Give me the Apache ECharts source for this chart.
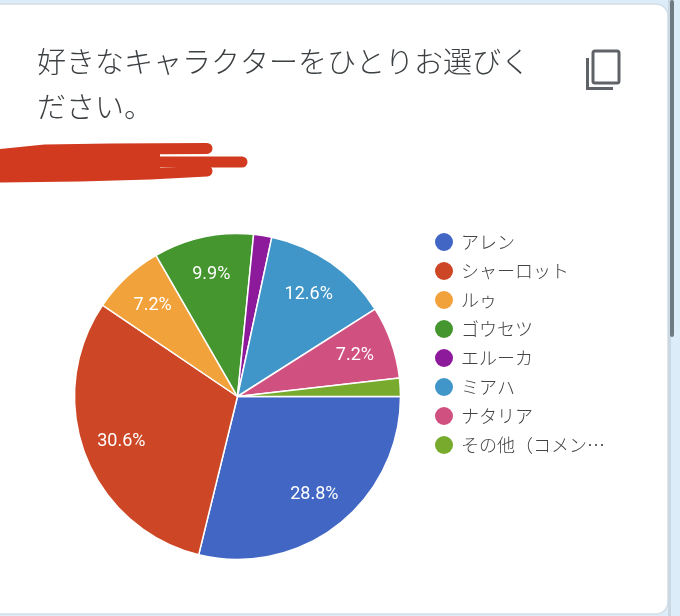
<!DOCTYPE html>
<html><head><meta charset="utf-8">
<style>html,body{margin:0;padding:0;background:#dcedf9}#c{width:680px;height:616px}</style>
<script src="https://cdn.jsdelivr.net/npm/echarts@6/dist/echarts.min.js"></script>
</head><body><div id="c"></div>
<script>
const titleText = "好きなキャラクターをひとりお選びく\nださい。";
const categories = ["アレン","シャーロット","ルゥ","ゴウセツ","エルーカ","ミアハ","ナタリア","その他（コメン…"];
const values = [28.8,30.6,7.2,9.9,1.8,12.6,7.2,1.8];
const colors = ["#4166c4","#cd4625","#f2a23a","#45962f","#8d1a9a","#4096c8","#d0507f","#78aa2e"];
const hiddenLabels = ["エルーカ","その他（コメン…"];
const FONT = '"Noto Sans CJK JP","Noto Sans",sans-serif';
const chart = echarts.init(document.getElementById('c'), null, {renderer:'canvas'});
const RED = "#d13a1f";
const stroke = (pts,w)=>({type:'polyline',z:-5,shape:{points:pts},style:{fill:"none",stroke:RED,lineWidth:w,lineCap:'round',lineJoin:'round'}});
chart.setOption({
  animation:false,
  backgroundColor:"#dcedf9",
  color:colors,
  title:{text:titleText,left:32,top:34,textStyle:{fontFamily:FONT,fontSize:29,fontWeight:300,color:"#3c4043",lineHeight:45}},
  legend:{
    orient:'vertical',left:430,top:228,itemWidth:18,itemHeight:18,itemGap:11,icon:'circle',
    data:categories,selectedMode:false,
    textStyle:{fontFamily:FONT,fontSize:18,fontWeight:300,color:"#444",padding:[0,0,0,3]},
    itemStyle:{borderWidth:0}
  },
  graphic:[
    {type:'rect',z:-10,shape:{x:-12,y:4,width:680,height:610,r:12},style:{fill:"#fff",stroke:"#d3dde5",lineWidth:1.5}},
    {type:'rect',z:-10,shape:{x:668,y:0,width:3,height:616},style:{fill:"#c9d8e3"}},
    {type:'rect',z:-9,shape:{x:670,y:0,width:4,height:337,r:2},style:{fill:"#6d7a82"}},
    stroke([[-4,155],[45,150],[110,149],[207,148.5]],11),
    stroke([[-4,161],[100,162],[242,162]],11),
    stroke([[-4,177],[80,176],[150,174],[207,171]],11),
    {type:'polygon',z:-5,shape:{points:[[0,150],[160,150],[160,176],[0,177]]},style:{fill:RED}},
    {type:'rect',z:-4,shape:{x:593,y:51,width:26,height:32,r:2},style:{fill:"none",stroke:"#5f6368",lineWidth:3}},
    {type:'polyline',z:-4,shape:{points:[[587.5,58],[587.5,88.5],[613,88.5]]},style:{fill:"none",stroke:"#5f6368",lineWidth:3}}
  ],
  series:[
    {type:'pie',center:[237.5,396.5],radius:[0,163],startAngle:0,clockwise:true,avoidLabelOverlap:false,silent:true,
     itemStyle:{borderColor:"#fff",borderWidth:1.5},
     label:{show:false},labelLine:{show:false},
     data:categories.map((n,i)=>({name:n,value:values[i]}))},
    {type:'pie',center:[237.5,396.5],radius:[80,163],startAngle:0,clockwise:true,avoidLabelOverlap:false,silent:true,
     itemStyle:{color:'transparent',borderWidth:0},
     labelLine:{show:false},
     label:{show:true,position:'inside',color:"#fff",fontFamily:'Roboto,sans-serif',fontSize:18,formatter:p=>hiddenLabels.includes(p.name)?"":p.value.toFixed(1)+"%"},
     data:categories.map((n,i)=>({name:n,value:values[i]}))}
  ]
});
</script></body></html>
